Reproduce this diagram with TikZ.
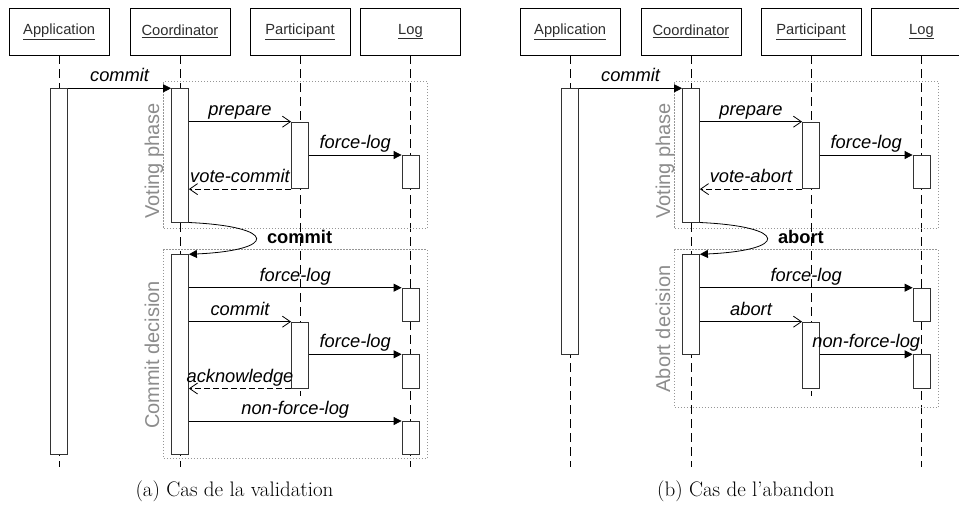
\documentclass[tikz,border=0pt]{standalone}
\usepackage{fontspec}
\setsansfont{Liberation Sans}
\usetikzlibrary{
  arrows.meta,
  positioning
}
\definecolor{headtext}{RGB}{45,45,45}
\definecolor{phasegray}{RGB}{140,140,140}
\definecolor{framegray}{RGB}{150,150,150}

\begin{document}
\begin{tikzpicture}[
  x=1pt, y=-1pt,
  every node/.style={font=\sffamily},
  lifehead/.style={draw, minimum width=100pt, minimum height=47pt, inner sep=0pt,
                   text=headtext, font=\sffamily\fontsize{14.7}{17}\selectfont},
  actbox/.style={draw=black!80, fill=white, minimum width=17pt, inner sep=0pt,
                 anchor=north, line width=0.8pt},
  lifeline/.style={dash pattern=on 9pt off 5pt, line width=0.8pt},
  phasebox/.style={draw=framegray, dash pattern=on 1.2pt off 1.8pt, line width=0.9pt,
                   anchor=north west, inner sep=0pt},
  phaselabel/.style={text=phasegray, rotate=90, inner sep=0pt, text height=15pt,
                     text depth=4pt, font=\sffamily\fontsize{20}{24}\selectfont},
  msg/.style={midway, above=6pt, inner sep=0pt, text depth=0pt,
              font=\sffamily\itshape\fontsize{18.3}{22}\selectfont},
  decision/.style={pos=0.5, anchor=base west, xshift=11pt, yshift=-5pt, inner sep=0pt,
                   font=\sffamily\bfseries\fontsize{18.3}{22}\selectfont},
  call/.style={-{Triangle[length=8pt,width=8pt]}, line width=0.8pt},
  send/.style={-{Straight Barb[length=8pt,width=11pt]}, line width=0.8pt},
  reply/.style={send, dash pattern=on 6pt off 3pt},
  caption/.style={anchor=base, font=\rmfamily\fontsize{21}{25}\selectfont}
]

\useasboundingbox (0,0) rectangle (959,504);
\clip (0,0) rectangle (959,504);

% (a) Cas de la validation
\node[lifehead] (aHApp) at (59.2,31.7) {\underline{Application}};
\node[lifehead] (aHCo) at (180,31.7) {\underline{Coordinator}};
\node[lifehead] (aHPa) at (300,31.7) {\underline{Participant}};
\node[lifehead] (aHLg) at (410.5,31.7) {\underline{Log}};

\coordinate (aEnd) at (0,467);
\coordinate (aPaEnd) at (0,396);
\draw[lifeline] (aHApp.south) -- (aHApp.south |- aEnd);
\draw[lifeline] (aHCo.south) -- (aHCo.south |- aEnd);
\draw[lifeline] (aHPa.south) -- (aHPa.south |- aPaEnd);
\draw[lifeline] (aHLg.south) -- (aHLg.south |- aEnd);

\node[phasebox, minimum width=263.4pt, minimum height=147.3pt] (aVote) at (163.3,81) {};
\node[phasebox, minimum width=263.4pt, minimum height=209pt] (aDecide) at (163.3,249.3) {};
\node[phaselabel] (aVoteLbl) at (153.5,161) {Voting phase};
\node[phaselabel] (aDecideLbl) at (153.5,355) {Commit decision};

\node[actbox, minimum height=366pt] (aAApp) at (59.2,88.3) {};
\node[actbox, minimum height=133.4pt] (aCo1) at (180,88.3) {};
\node[actbox, minimum height=66.6pt] (aPa1) at (300,121.7) {};
\node[actbox, minimum height=33.3pt] (aLg1) at (410.5,155) {};
\node[actbox, minimum height=200pt] (aCo2) at (180,254.3) {};
\node[actbox, minimum height=33.3pt] (aLg2) at (410.5,287.7) {};
\node[actbox, minimum height=66pt] (aPa2) at (300,321.7) {};
\node[actbox, minimum height=33.3pt] (aLg3) at (410.5,354.3) {};
\node[actbox, minimum height=33.3pt] (aLg4) at (410.5,421) {};

\draw[call] (aAApp.north east) -- (aCo1.north west) node[msg] {commit};
\draw[send] (aCo1.east |- aPa1.north) -- (aPa1.north west) node[msg] {prepare};
\draw[call] (aPa1.east |- aLg1.north) -- (aLg1.north west) node[msg] {force-log};
\draw[reply] (aPa1.south west) -- (aCo1.east |- aPa1.south) node[msg] {vote-commit};
\draw[call] (aCo1.south east) .. controls +(89,4) and +(89,-4) .. (aCo2.north east)
  node[decision] {commit};
\draw[call] (aCo2.east |- aLg2.north) -- (aLg2.north west) node[msg] {force-log};
\draw[send] (aCo2.east |- aPa2.north) -- (aPa2.north west) node[msg] {commit};
\draw[call] (aPa2.east |- aLg3.north) -- (aLg3.north west) node[msg] {force-log};
\draw[reply] (aPa2.south west) -- (aCo2.east |- aPa2.south) node[msg] {acknowledge};
\draw[call] (aCo2.east |- aLg4.north) -- (aLg4.north west) node[msg] {non-force-log};

\node[caption] (aCap) at (234.5,496) {(a) Cas de la validation};

% (b) Cas de l'abandon
\node[lifehead] (bHApp) at (570.2,31.7) {\underline{Application}};
\node[lifehead] (bHCo) at (691,31.7) {\underline{Coordinator}};
\node[lifehead] (bHPa) at (811,31.7) {\underline{Participant}};
\node[lifehead] (bHLg) at (921.5,31.7) {\underline{Log}};

\coordinate (bEnd) at (0,467);
\coordinate (bPaEnd) at (0,396);
\draw[lifeline] (bHApp.south) -- (bHApp.south |- bEnd);
\draw[lifeline] (bHCo.south) -- (bHCo.south |- bEnd);
\draw[lifeline] (bHPa.south) -- (bHPa.south |- bPaEnd);
\draw[lifeline] (bHLg.south) -- (bHLg.south |- bEnd);

\node[phasebox, minimum width=263.4pt, minimum height=147.3pt] (bVote) at (674.3,81) {};
\node[phasebox, minimum width=263.4pt, minimum height=158pt] (bDecide) at (674.3,249.3) {};
\node[phaselabel] (bVoteLbl) at (664.5,161) {Voting phase};
\node[phaselabel] (bDecideLbl) at (664.5,329) {Abort decision};

\node[actbox, minimum height=266pt] (bAApp) at (570.2,88.3) {};
\node[actbox, minimum height=133.4pt] (bCo1) at (691,88.3) {};
\node[actbox, minimum height=66.6pt] (bPa1) at (811,121.7) {};
\node[actbox, minimum height=33.3pt] (bLg1) at (921.5,155) {};
\node[actbox, minimum height=100pt] (bCo2) at (691,254.3) {};
\node[actbox, minimum height=33.3pt] (bLg2) at (921.5,287.7) {};
\node[actbox, minimum height=66pt] (bPa2) at (811,321.7) {};
\node[actbox, minimum height=33.3pt] (bLg3) at (921.5,354.3) {};

\draw[call] (bAApp.north east) -- (bCo1.north west) node[msg] {commit};
\draw[send] (bCo1.east |- bPa1.north) -- (bPa1.north west) node[msg] {prepare};
\draw[call] (bPa1.east |- bLg1.north) -- (bLg1.north west) node[msg] {force-log};
\draw[reply] (bPa1.south west) -- (bCo1.east |- bPa1.south) node[msg] {vote-abort};
\draw[call] (bCo1.south east) .. controls +(89,4) and +(89,-4) .. (bCo2.north east)
  node[decision] {abort};
\draw[call] (bCo2.east |- bLg2.north) -- (bLg2.north west) node[msg] {force-log};
\draw[send] (bCo2.east |- bPa2.north) -- (bPa2.north west) node[msg] {abort};
\draw[call] (bPa2.east |- bLg3.north) -- (bLg3.north west) node[msg] {non-force-log};

\node[caption] (bCap) at (745.8,496) {(b) Cas de l’abandon};

\end{tikzpicture}
\end{document}
